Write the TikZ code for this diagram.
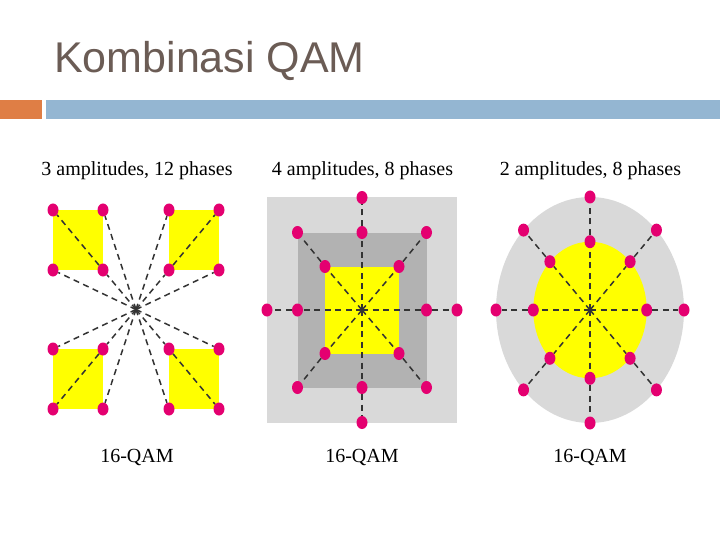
\documentclass[tikz,border=0pt]{standalone}
\usepackage{fontspec}
\setmainfont{Liberation Serif}
\newfontfamily\titlefont{Liberation Sans}
\usetikzlibrary{shapes.geometric,calc}
\definecolor{titlecol}{RGB}{107,92,85}
\definecolor{barorange}{RGB}{223,126,69}
\definecolor{barblue}{RGB}{148,182,210}
\definecolor{dotcol}{RGB}{228,0,112}
\definecolor{lgray}{RGB}{217,217,217}
\definecolor{dgray}{RGB}{178,178,178}
\definecolor{qyellow}{RGB}{255,255,0}
\tikzset{
  dot/.style={ellipse,fill=dotcol,draw=none,minimum width=11pt,minimum height=13pt,inner sep=0pt},
  dline/.style={draw=black!80,line width=1.5pt,dash pattern=on 6pt off 4.5pt},
  lab/.style={font=\fontsize{20}{24}\selectfont,inner sep=0pt,anchor=base},
}
\begin{document}
\begin{tikzpicture}[x=1pt,y=-1pt]
\useasboundingbox (0,0) rectangle (720,540);
% header
\node[font=\titlefont\fontsize{43}{50}\selectfont,text=titlecol,anchor=base west,inner sep=0pt] (title) at (54,72.7) {Kombinasi QAM};
\fill[barorange] (0,100) rectangle (41.7,119);
\fill[barblue] (45.7,100) rectangle (720,119);
% labels
\node[lab] (t1) at (137,176) {3 amplitudes, 12 phases};
\node[lab] (t2) at (362.5,176) {4 amplitudes, 8 phases};
\node[lab] (t3) at (590.5,176) {2 amplitudes, 8 phases};
\node[lab] (b1) at (137,462) {16-QAM};
\node[lab] (b2) at (362,462) {16-QAM};
\node[lab] (b3) at (590,462) {16-QAM};
% ---------- panel 1 ----------
\coordinate (c1) at (136,309.5);
\foreach \sx/\sy/\q in {-1/-1/a,1/-1/b,-1/1/c,1/1/d}{
  \fill[qyellow] ({136+\sx*33},{309.5+\sy*39.5}) rectangle ({136+\sx*83},{309.5+\sy*99.5});
}
\foreach \sx/\sy/\q in {-1/-1/a,1/-1/b,-1/1/c,1/1/d}{
  \node[dot] (p1\q in) at ({136+\sx*33},{309.5+\sy*39.5}) {};
  \node[dot] (p1\q out) at ({136+\sx*83},{309.5+\sy*99.5}) {};
  \node[dot] (p1\q A) at ({136+\sx*33},{309.5+\sy*99.5}) {};
  \node[dot] (p1\q B) at ({136+\sx*83},{309.5+\sy*39.5}) {};
  \draw[dline] (c1) -- (p1\q in);
  \draw[dline] (p1\q in) -- (p1\q out);
  \draw[dline] (c1) -- (p1\q A);
  \draw[dline] (c1) -- (p1\q B);
}
% ---------- panel 2 ----------
\coordinate (c2) at (362,310);
\fill[lgray] (267,197.5) rectangle (457,422.5);
\fill[dgray] (297.5,232.5) rectangle (426.5,387.5);
\fill[qyellow] (325,266.5) rectangle (399,353.5);
\foreach \n/\ix/\iy/\ox/\oy in {l/-64.5/0/-95/0, r/64.5/0/95/0, u/0/-77.5/0/-112.5, d/0/77.5/0/112.5,
  ul/-37/-43.5/-64.5/-77.5, ur/37/-43.5/64.5/-77.5, dl/-37/43.5/-64.5/77.5, dr/37/43.5/64.5/77.5}{
  \node[dot] (p2\n in) at ({362+\ix},{310+\iy}) {};
  \node[dot] (p2\n out) at ({362+\ox},{310+\oy}) {};
  \draw[dline] (c2) -- (p2\n in);
  \draw[dline] (p2\n in) -- (p2\n out);
}
% ---------- panel 3 ----------
\coordinate (c3) at (590,310);
\fill[lgray] (c3) ellipse [x radius=94, y radius=113];
\fill[qyellow] (c3) ellipse [x radius=56.7, y radius=68.3];
\foreach \a in {0,45,...,315}{
  \node[dot] (p3in\a) at ({590+56.7*cos(\a)},{310+68.3*sin(\a)}) {};
  \node[dot] (p3out\a) at ({590+94*cos(\a)},{310+113*sin(\a)}) {};
  \draw[dline] (c3) -- (p3in\a);
  \draw[dline] (p3in\a) -- (p3out\a);
}
\end{tikzpicture}
\end{document}
